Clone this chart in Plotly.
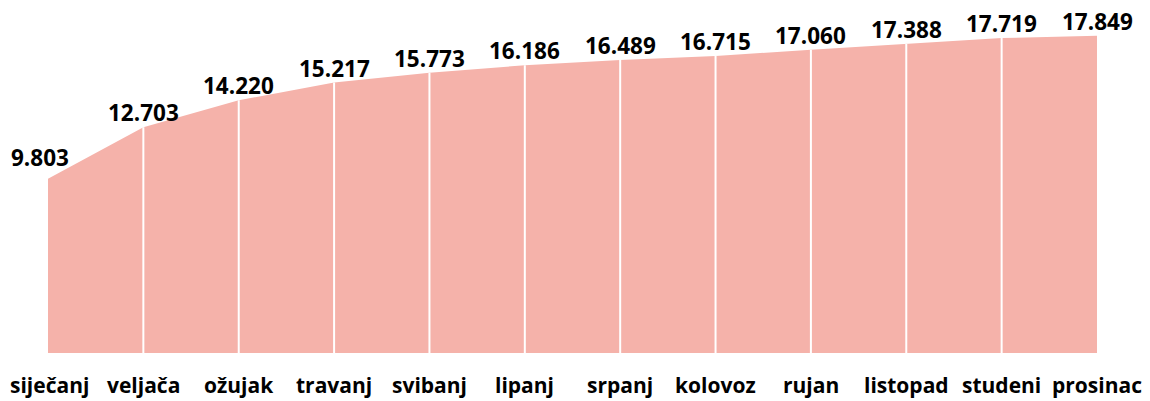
import plotly.graph_objects as go

months = ["siječanj", "veljača", "ožujak", "travanj", "svibanj", "lipanj",
          "srpanj", "kolovoz", "rujan", "listopad", "studeni", "prosinac"]
values = [9.803, 12.703, 14.220, 15.217, 15.773, 16.186,
          16.489, 16.715, 17.060, 17.388, 17.719, 17.849]
labels = ["9.803", "12.703", "14.220", "15.217", "15.773", "16.186",
          "16.489", "16.715", "17.060", "17.388", "17.719", "17.849"]

idx = list(range(len(months)))
fill_color = "#F5B2AA"
font_family = "Open Sans"
LEFT = 40

fig = go.Figure()
fig.add_trace(go.Scatter(
    x=idx, y=values, mode="lines", fill="tozeroy",
    fillcolor=fill_color, line=dict(color=fill_color, width=0),
    hoverinfo="skip", showlegend=False))

# white separators at interior months
sx, sy = [], []
for i in idx[1:-1]:
    sx += [i, i, None]
    sy += [0, values[i], None]
fig.add_trace(go.Scatter(x=sx, y=sy, mode="lines",
                         line=dict(color="white", width=2),
                         hoverinfo="skip", showlegend=False))

annotations = []
for i, (v, lab) in enumerate(zip(values, labels)):
    first = i == 0
    annotations.append(dict(
        x=i, y=v, xref="x", yref="y", text=lab, showarrow=False,
        xanchor="center", yanchor="bottom", borderpad=0, borderwidth=0,
        xshift=-8 if first else 0, yshift=6 if first else -1,
        font=dict(family=font_family, size=22.5, color="black", weight="bold")))
for i, m in enumerate(months):
    first = i == 0
    annotations.append(dict(
        x=i, y=0, xref="x", yref="y", text=m, showarrow=False,
        xanchor="left" if first else "center", yanchor="top",
        xshift=-LEFT if first else 0, yshift=-16,
        font=dict(family=font_family, size=21, color="black", weight="bold")))

fig.update_layout(
    width=1142, height=393,
    margin=dict(l=LEFT, r=53, t=0, b=48),
    paper_bgcolor="white", plot_bgcolor="white",
    xaxis=dict(range=[0, 11], showticklabels=False,
               showgrid=False, zeroline=False, showline=False),
    yaxis=dict(range=[0, 19.41], visible=False, showgrid=False, zeroline=False),
    annotations=annotations,
)

fig.write_html("out.html")
